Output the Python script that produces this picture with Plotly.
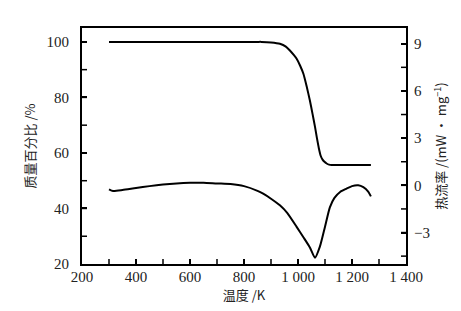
import plotly.graph_objects as go

# TG curve (mass percentage, left axis)
tg_temp = [300, 500, 700, 850, 865, 900, 933, 955, 970, 985, 995, 1008, 1020, 1032, 1044, 1054, 1063, 1070, 1077,
           1084, 1091, 1098, 1106, 1115, 1125, 1150, 1200, 1270]
tg_mass = [100, 100, 100, 100, 100, 99.8, 99.3, 98.3, 96.9, 95.2, 93.9, 91.4, 88.5, 84.0, 78.9, 74.0, 69.4, 65.4, 61.8,
           59.0, 57.6, 56.8, 56.2, 55.8, 55.7, 55.7, 55.7, 55.7]

# DSC curve (heat flow, right axis)
dsc_temp = [300, 315, 350, 400, 450, 500, 550, 600, 650, 700, 750, 800, 850, 871, 900, 933, 960, 995, 1020, 1044,
            1063, 1081, 1100, 1118, 1135, 1156, 1180, 1200, 1223, 1242, 1260, 1270]
dsc_flow = [-0.25, -0.36, -0.3, -0.17, -0.05, 0.05, 0.12, 0.16, 0.17, 0.12, 0.08, -0.05, -0.35, -0.53, -0.85, -1.27,
            -1.75, -2.64, -3.3, -3.95, -4.6, -3.9, -2.63, -1.4, -0.8, -0.42, -0.21, -0.05, 0.0, -0.12, -0.4, -0.7]

# tick positions (major + minor) along each axis
x_tick_vals = [300, 400, 500, 600, 700, 800, 900, 1000, 1100, 1200, 1300]
y_tick_vals = [30, 40, 50, 60, 70, 80, 90, 100]
y2_tick_vals = [-4.5, -3, -1.5, 0, 1.5, 3, 4.5, 6, 7.5, 9]

tick_font = dict(family="Liberation Serif", size=15, color="#222")
title_font = dict(family="Noto Sans CJK SC", size=13, color="#222")

fig = go.Figure()
fig.add_trace(go.Scatter(x=tg_temp, y=tg_mass, mode="lines",
                         line=dict(color="black", width=2, shape="spline", smoothing=0.4), showlegend=False))
fig.add_trace(go.Scatter(x=dsc_temp, y=dsc_flow, mode="lines", yaxis="y2",
                         line=dict(color="black", width=2, shape="spline", smoothing=0.6), showlegend=False))

tick_line = dict(color="black", width=1.5)
shapes = []
for v in x_tick_vals:
    shapes.append(dict(type="line", xref="x", yref="y domain", x0=v, x1=v, ysizemode="pixel", yanchor=0,
                       y0=0, y1=5, line=tick_line))
for v in y_tick_vals:
    shapes.append(dict(type="line", yref="y", xref="x domain", y0=v, y1=v, xsizemode="pixel", xanchor=0,
                       x0=0, x1=5, line=tick_line))
for v in y2_tick_vals:
    shapes.append(dict(type="line", yref="y2", xref="x domain", y0=v, y1=v, xsizemode="pixel", xanchor=1,
                       x0=0, x1=-5, line=tick_line))

fig.update_layout(
    width=453, height=303,
    margin=dict(l=74, r=55, t=20, b=47),
    paper_bgcolor="white", plot_bgcolor="white",
    separators=". ",
    shapes=shapes,
    xaxis=dict(range=[200, 1400], tickmode="linear", tick0=200, dtick=200, tickformat=",",
               ticks="inside", ticklen=5, tickwidth=1.5, tickcolor="black", ticklabelstandoff=-2,
               automargin=False,
               showline=True, linecolor="black", linewidth=2, mirror=True, showgrid=False, zeroline=False,
               tickfont=tick_font, title=dict(text="温度 /K", font=title_font, standoff=7)),
    yaxis=dict(range=[20, 105], tickmode="linear", tick0=20, dtick=20, ticks="inside", ticklen=5, tickwidth=1.5,
               tickcolor="black", ticklabelstandoff=8, automargin=False,
               showline=True, linecolor="black", linewidth=2, showgrid=False, zeroline=False,
               tickfont=tick_font, title=dict(text="质量百分比 /%", font=title_font, standoff=8)),
    yaxis2=dict(range=[-5, 10], overlaying="y", side="right", tickmode="linear", tick0=0, dtick=3,
                ticks="inside", ticklen=5, tickwidth=1.5, tickcolor="black", ticklabelstandoff=3,
                automargin=False,
                showline=True, linecolor="black", linewidth=2, showgrid=False, zeroline=False,
                tickfont=tick_font, title=dict(text="热流率 /(mW · mg<sup>−1</sup>)", font=title_font, standoff=8)),
)

fig.write_html("out.html")
